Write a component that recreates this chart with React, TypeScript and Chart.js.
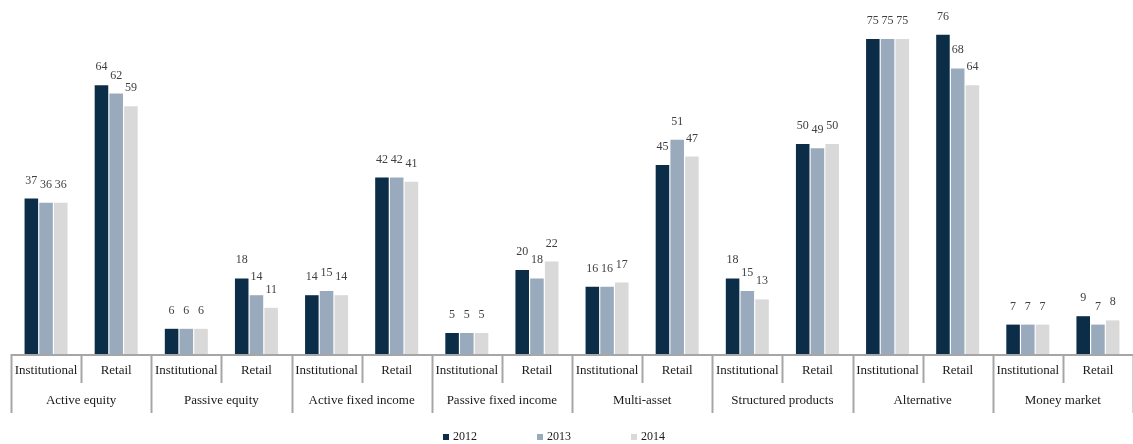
import React, { useEffect, useRef } from "react";
import { Chart, registerables } from "chart.js";

Chart.register(...registerables);

const groups = [
  "Active equity",
  "Passive equity",
  "Active fixed income",
  "Passive fixed income",
  "Multi-asset",
  "Structured products",
  "Alternative",
  "Money market",
];
const subLabels = ["Institutional", "Retail"];
const categories = groups.flatMap((g) => subLabels.map((s) => `${g} ${s}`));

const seriesNames = ["2012", "2013", "2014"];
const values2012 = [37, 64, 6, 18, 14, 42, 5, 20, 16, 45, 18, 50, 75, 76, 7, 9];
const values2013 = [36, 62, 6, 14, 15, 42, 5, 18, 16, 51, 15, 49, 75, 68, 7, 7];
const values2014 = [36, 59, 6, 11, 14, 41, 5, 22, 17, 47, 13, 50, 75, 64, 7, 8];
const seriesColors = ["#0c2d48", "#99aabd", "#d9d9d9"];

const FONT = "'Liberation Serif', 'DejaVu Serif', serif";
const AXIS_COLOR = "#a6a6a6";

const labelsPlugin = {
  id: "customDecor",
  afterDatasetsDraw(chart: any) {
    const ctx = chart.ctx;
    ctx.save();
    ctx.font = `12px ${FONT}`;
    ctx.fillStyle = "#404040";
    ctx.textAlign = "center";
    ctx.textBaseline = "alphabetic";
    chart.data.datasets.forEach((ds: any, di: number) => {
      const meta = chart.getDatasetMeta(di);
      meta.data.forEach((el: any, i: number) => {
        ctx.fillText(String(ds.data[i]), el.x, el.y - 15);
      });
    });
    ctx.restore();
  },
  afterDraw(chart: any) {
    const ctx = chart.ctx;
    const xs = chart.scales.x;
    const area = chart.chartArea;
    const n = categories.length;
    const step = (xs.getPixelForValue(1) - xs.getPixelForValue(0));
    const bottom = area.bottom;
    ctx.save();
    // axis line
    ctx.strokeStyle = AXIS_COLOR;
    ctx.lineWidth = 2;
    const left = xs.getPixelForValue(0) - step / 2;
    const right = xs.getPixelForValue(n - 1) + step / 2;
    ctx.beginPath();
    ctx.moveTo(left, bottom + 1);
    ctx.lineTo(right, bottom + 1);
    ctx.stroke();
    // separators
    for (let i = 0; i <= n; i++) {
      const x = Math.round(xs.getPixelForValue(0) - step / 2 + i * step) + 0.5;
      const long = i % 2 === 0;
      ctx.beginPath();
      ctx.lineWidth = 2;
      ctx.moveTo(x, bottom);
      ctx.lineTo(x, bottom + (long ? 59 : 29));
      ctx.stroke();
    }
    // labels
    ctx.fillStyle = "#1a1a1a";
    ctx.font = `13px ${FONT}`;
    ctx.textAlign = "center";
    ctx.textBaseline = "middle";
    for (let i = 0; i < n; i++) {
      ctx.fillText(subLabels[i % 2], xs.getPixelForValue(i), bottom + 17);
    }
    groups.forEach((g, gi) => {
      const cx = (xs.getPixelForValue(gi * 2) + xs.getPixelForValue(gi * 2 + 1)) / 2;
      ctx.fillText(g, cx, bottom + 47);
    });
    // legend
    ctx.font = `12px ${FONT}`;
    ctx.textAlign = "left";
    ctx.textBaseline = "alphabetic";
    const legendCenter = (left + right) / 2;
    const spacing = 94;
    const startX = legendCenter - spacing - 35;
    const baseY = 440;
    seriesNames.forEach((name, i) => {
      const x0 = startX + i * spacing;
      ctx.fillStyle = seriesColors[i];
      ctx.fillRect(x0, baseY - 6, 6, 6);
      ctx.fillStyle = "#1a1a1a";
      ctx.fillText(name, x0 + 10, baseY);
    });
    ctx.restore();
  },
};

export default function App() {
  const ref = useRef<HTMLCanvasElement | null>(null);
  useEffect(() => {
    if (!ref.current) return;
    const chart = new Chart(ref.current, {
      type: "bar",
      data: {
        labels: categories,
        datasets: [values2012, values2013, values2014].map((d, i) => ({
          label: seriesNames[i],
          data: d,
          backgroundColor: seriesColors[i],
          barPercentage: 0.92,
          categoryPercentage: 0.63,
        })),
      },
      options: {
        responsive: false,
        animation: false,
        layout: { padding: { left: 11, right: 0, top: 18, bottom: 90 } },
        plugins: {
          legend: { display: false },
          tooltip: { enabled: false },
        },
        scales: {
          x: { display: false, offset: true, grid: { display: false } },
          y: { display: false, min: 0, max: 80 },
        },
      },
      plugins: [labelsPlugin],
    });
    return () => chart.destroy();
  }, []);
  return (
    <div style={{ position: "absolute", left: 0, top: 0, width: 1133, height: 444, background: "#fff" }}>
      <canvas ref={ref} width={1133} height={444} />
    </div>
  );
}
